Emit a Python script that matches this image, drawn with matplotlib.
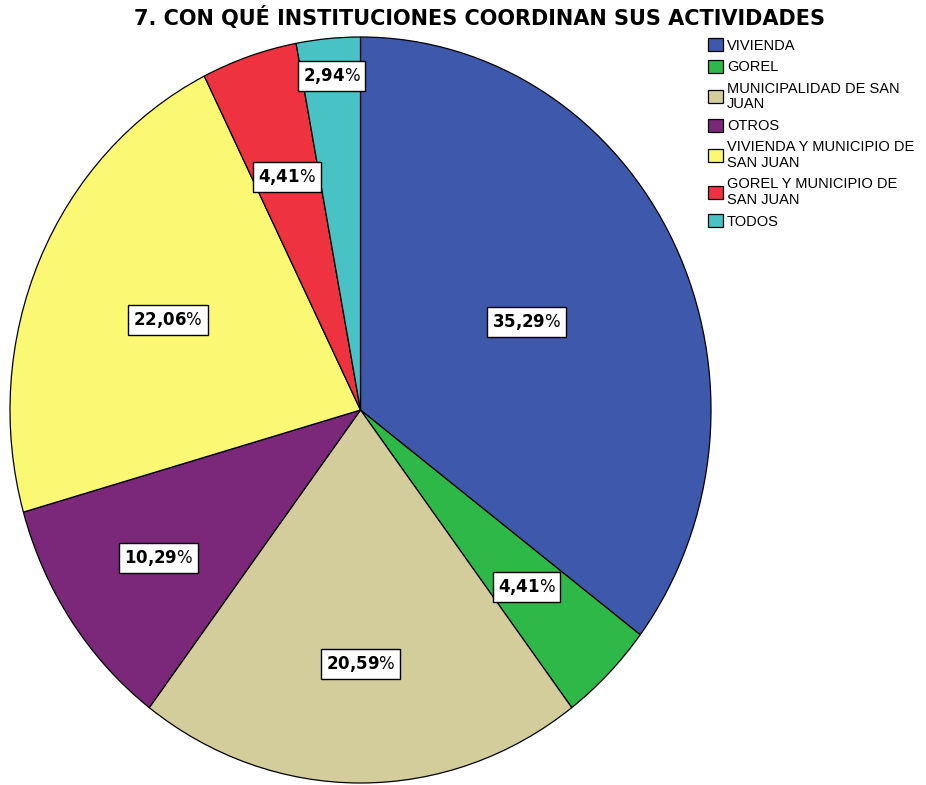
import numpy as np
import matplotlib
matplotlib.use("Agg")
import matplotlib.pyplot as plt

# Data
categories = ["VIVIENDA", "GOREL", "MUNICIPALIDAD DE SAN\nJUAN", "OTROS",
              "VIVIENDA Y MUNICIPIO DE\nSAN JUAN", "GOREL Y MUNICIPIO DE\nSAN JUAN", "TODOS"]
percents = [35.29, 4.41, 20.59, 10.29, 22.06, 4.41, 2.94]
pct_labels = ["35,29", "4,41", "20,59", "10,29", "22,06", "4,41", "2,94"]

colors = ["#3E58AC", "#2EB848", "#D3CD9B", "#7B287B", "#FBF974", "#EE3240", "#49C2C6"]
label_radius = [0.53, 0.67, 0.68, 0.70, 0.60, 0.66, 0.90]

fig = plt.figure(figsize=(9.26, 7.85), dpi=100)
ax = fig.add_axes([10 / 926, 2 / 785, 701 / 926, 746 / 785])

wedges, _ = ax.pie(percents, colors=colors, startangle=90, counterclock=False,
                   wedgeprops=dict(edgecolor="black", linewidth=0.9))
ax.set_aspect("auto")
ax.set_xlim(-1, 1)
ax.set_ylim(-1, 1)
ax.axis("off")

# percentage boxes
for w, lab, r in zip(wedges, pct_labels, label_radius):
    ang = np.deg2rad((w.theta1 + w.theta2) / 2)
    x, y = r * np.cos(ang), r * np.sin(ang)
    ax.text(x, y, r"$\mathbf{" + lab.replace(",", "{,}") + "}$%", ha="center", va="center",
            fontsize=12, color="black",
            bbox=dict(boxstyle="square,pad=0.3", facecolor="white", edgecolor="black", linewidth=1))

fig.text(479 / 926, 1 - 17 / 785, "7. CON QUÉ INSTITUCIONES COORDINAN SUS ACTIVIDADES",
         ha="center", va="center", fontsize=15, fontweight="bold")

leg = fig.legend(wedges, categories, loc="upper left", bbox_to_anchor=(708 / 926, 1 - 38 / 785),
                 frameon=False, borderpad=0, borderaxespad=0,
                 handlelength=1.0, handleheight=1.0, handletextpad=0.3,
                 labelspacing=0.5, prop={"family": "Liberation Sans", "size": 10.5})
for t in leg.get_texts():
    t.set_linespacing(1.15)

fig.savefig("out.png", dpi=100)
